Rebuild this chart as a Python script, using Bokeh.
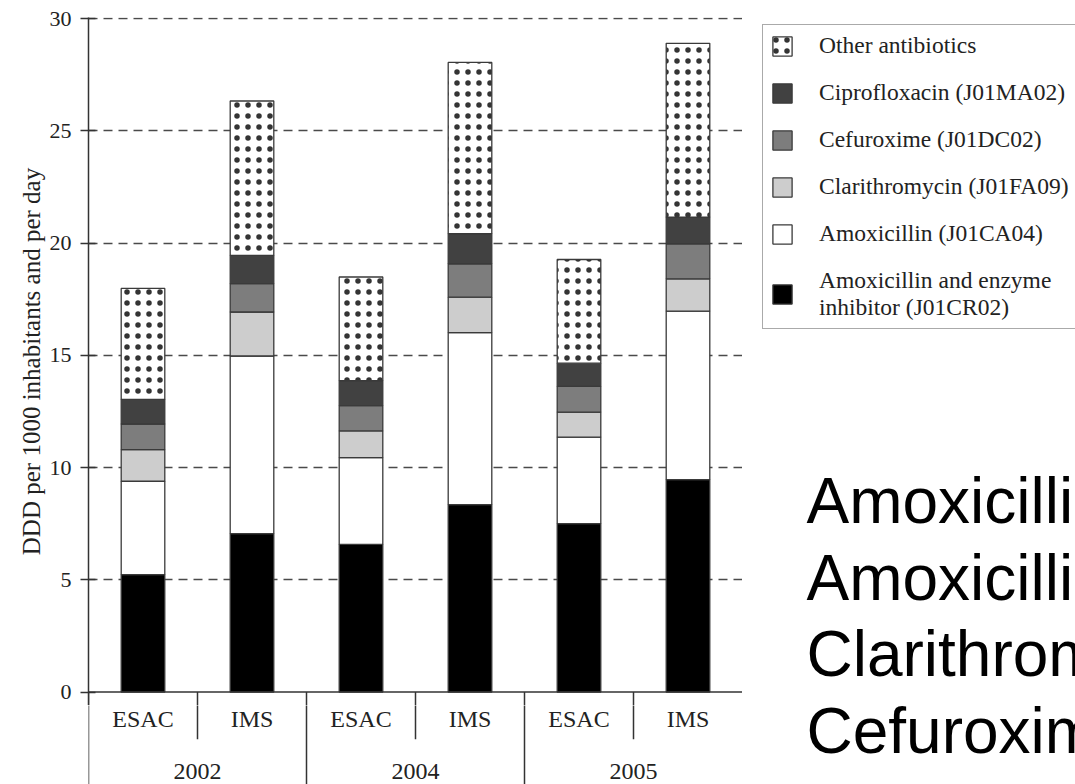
import numpy as np
from bokeh.plotting import figure
from bokeh.layouts import row, column
from bokeh.models import (FactorRange, Range1d, ColumnDataSource, FixedTicker,
                          Span, Legend, LegendItem)
from bokeh.core.properties import value
from bokeh.transform import stack
from bokeh.embed import file_html
from bokeh.resources import INLINE

# ---------------- data ----------------
years = ["2002", "2004", "2005"]
sources = ["ESAC", "IMS"]

# bar order: 2002 ESAC, 2002 IMS, 2004 ESAC, 2004 IMS, 2005 ESAC, 2005 IMS
amox_inhibitor = [5.23, 7.06, 6.58, 8.35, 7.50, 9.46]
amoxicillin = [4.16, 7.91, 3.86, 7.66, 3.86, 7.51]
clarithromycin = [1.41, 1.96, 1.19, 1.58, 1.11, 1.44]
cefuroxime = [1.14, 1.26, 1.13, 1.49, 1.15, 1.56]
ciprofloxacin = [1.10, 1.26, 1.11, 1.34, 1.03, 1.19]
other = [4.94, 6.88, 4.62, 7.63, 4.62, 7.74]

series_keys = ["amox_inhibitor", "amoxicillin", "clarithromycin",
               "cefuroxime", "ciprofloxacin", "other"]
series_labels = ["Amoxicillin and enzyme\ninhibitor (J01CR02)",
                 "Amoxicillin (J01CA04)",
                 "Clarithromycin (J01FA09)",
                 "Cefuroxime (J01DC02)",
                 "Ciprofloxacin (J01MA02)",
                 "Other antibiotics"]
series_fills = ["#000000", "#ffffff", "#cdcdcd", "#7d7d7d", "#414141", "#ffffff"]
series_dotted = [False, False, False, False, False, True]

y_ticks = [0, 5, 10, 15, 20, 25, 30]
y_title = "DDD per 1000 inhabitants and per day"
side_texts = ["Amoxicillin", "Amoxicillin", "Clarithromycin", "Cefuroxime"]

# ---------------- shared settings ----------------
SERIF = "Liberation Serif"
INK = "#333333"
factors = [(yr, s) for yr in years for s in sources]
x_range = FactorRange(*factors, group_padding=0, range_padding=0)
src = ColumnDataSource(dict(
    x=factors,
    amox_inhibitor=amox_inhibitor, amoxicillin=amoxicillin,
    clarithromycin=clarithromycin, cefuroxime=cefuroxime,
    ciprofloxacin=ciprofloxacin, other=other,
))


def bar_style(i):
    kw = dict(fill_color=series_fills[i], line_color="#3a3a3a", line_width=1.3)
    if series_dotted[i]:
        kw.update(hatch_pattern="dot", hatch_color="#111111", hatch_alpha=0.85,
                  hatch_scale=11)
    return kw


def draw_separators(fig, y_end):
    n_sub = len(sources)
    inner_x = [yi * n_sub + k for yi in range(len(years)) for k in range(1, n_sub)]
    outer_x = [yi * n_sub for yi in range(0, len(years))]
    fig.segment(x0=inner_x, y0=[0] * len(inner_x), x1=inner_x,
                y1=[-2.1] * len(inner_x), line_color=INK, line_width=1.5)
    fig.segment(x0=outer_x, y0=[0] * len(outer_x), x1=outer_x,
                y1=[y_end] * len(outer_x), line_color=INK, line_width=1.5)


Y_SPLIT = -0.6
Y_BOTTOM = -4.111

# ---------------- main chart ----------------
p = figure(width=742, height=705, x_range=x_range,
           y_range=Range1d(Y_SPLIT, 30.05),
           x_axis_location=None,
           output_backend="svg", toolbar_location=None,
           min_border_left=88, min_border_top=17, min_border_bottom=0,
           min_border_right=0)
p.outline_line_color = None
p.xgrid.visible = False

ax = p.yaxis[0]
ax.ticker = FixedTicker(ticks=y_ticks)
ax.minor_tick_line_color = None
ax.major_tick_in = 7
ax.major_tick_out = 8
ax.major_tick_line_color = INK
ax.major_tick_line_width = 1.5
ax.axis_line_color = INK
ax.axis_line_width = 1.5
ax.major_label_text_font = SERIF
ax.major_label_text_font_size = "22px"
ax.major_label_text_color = "#222222"
ax.major_label_standoff = 9
ax.axis_label = y_title
ax.axis_label_text_font = SERIF
ax.axis_label_text_font_size = "25px"
ax.axis_label_text_font_style = "normal"
ax.axis_label_text_color = "#222222"
ax.axis_label_standoff = 2

p.ygrid.ticker = FixedTicker(ticks=[t for t in y_ticks if t > 0])
p.ygrid.grid_line_color = "#4a4a4a"
p.ygrid.grid_line_width = 1.5
p.ygrid.grid_line_dash = "9 6"

for i, key in enumerate(series_keys):
    bottom = stack(*series_keys[:i]) if i > 0 else 0
    p.vbar(x="x", width=0.4, bottom=bottom, top=stack(*series_keys[:i + 1]),
           source=src, **bar_style(i))

p.add_layout(Span(location=0, dimension="width", line_color=INK,
                  line_width=1.5))
draw_separators(p, Y_BOTTOM)

# ---------------- category table under the chart ----------------
t = figure(width=742, height=79, x_range=x_range,
           y_range=Range1d(Y_BOTTOM, Y_SPLIT),
           x_axis_location=None, y_axis_location=None,
           output_backend="svg", toolbar_location=None,
           min_border_left=88, min_border_top=0, min_border_bottom=0,
           min_border_right=0)
t.outline_line_color = None
t.grid.visible = False
draw_separators(t, Y_BOTTOM)
t.text(x=factors, y=[-1.19] * len(factors), text=[f[1] for f in factors],
       text_font=value(SERIF), text_font_size="24px", text_color="#222222",
       text_align="center", text_baseline="middle")
t.text(x=years, y=[-3.55] * len(years), text=years,
       text_font=value(SERIF), text_font_size="24px", text_color="#222222",
       text_align="center", text_baseline="middle")

# ---------------- legend + overlay text panel ----------------
side = figure(width=333, height=784, x_range=Range1d(0, 333),
              y_range=Range1d(784, 0),
              x_axis_location=None, y_axis_location=None,
              output_backend="svg", toolbar_location=None, min_border=0)
side.outline_line_color = None
side.grid.visible = False

# legend proxies (NaN geometry: nothing is drawn, only the legend swatches)
proxy = ColumnDataSource(dict(x=np.array([np.nan]), top=np.array([np.nan])))
leg_renderers = [side.vbar(x="x", top="top", width=1, source=proxy, **bar_style(i))
                 for i in range(len(series_keys))]
items = [LegendItem(label=series_labels[i], renderers=[leg_renderers[i]])
         for i in reversed(range(len(series_keys)))]
legend = Legend(items=items, location=(20, 455), margin=0, padding=7,
                spacing=20, glyph_width=24, glyph_height=24,
                label_standoff=25, label_height=26,
                label_text_font=SERIF, label_text_font_size="23.5px",
                label_text_color="#222222",
                border_line_color="#555555", border_line_width=1.5,
                background_fill_color="white", background_fill_alpha=1.0)
side.add_layout(legend)

side.text(x=[64] * len(side_texts), y=[500, 577, 653, 730], text=side_texts,
          text_font=value("Liberation Sans"), text_font_size="64px",
          text_color="black", text_baseline="alphabetic", text_align="left")

layout = row(column(p, t), side)
open("out.html", "w").write(file_html(layout, INLINE))
